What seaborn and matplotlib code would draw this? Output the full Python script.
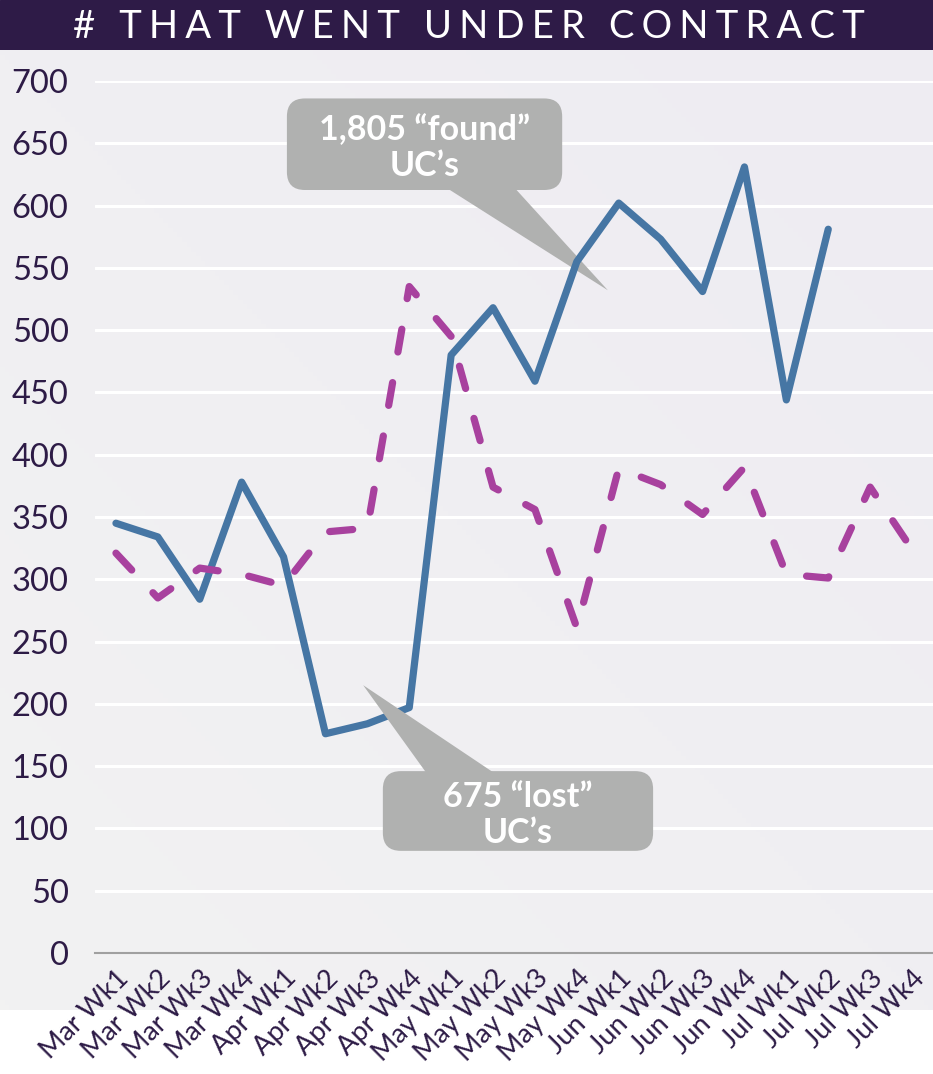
import numpy as np
import pandas as pd
import matplotlib.pyplot as plt
import seaborn as sns
from matplotlib.patches import FancyBboxPatch, Polygon, Rectangle
from matplotlib.colors import LinearSegmentedColormap
from matplotlib.transforms import ScaledTranslation

# Données
weeks = ["Mar Wk1", "Mar Wk2", "Mar Wk3", "Mar Wk4",
         "Apr Wk1", "Apr Wk2", "Apr Wk3", "Apr Wk4",
         "May Wk1", "May Wk2", "May Wk3", "May Wk4",
         "Jun Wk1", "Jun Wk2", "Jun Wk3", "Jun Wk4",
         "Jul Wk1", "Jul Wk2", "Jul Wk3", "Jul Wk4"]
found = [345, 334, 284, 378, 318, 176, 184, 197, 480, 518, 459, 555,
         602, 573, 531, 631, 444, 581, np.nan, np.nan]
lost = [321, 285, 309, 304, 295, 338, 341, 535, 495, 374, 356, 261,
        389, 376, 352, 390, 304, 301, 374, 324]

title = "# THAT WENT UNDER CONTRACT"
callout_found = "1,805 \u201cfound\u201d\nUC\u2019s"
callout_lost = "675 \u201clost\u201d\nUC\u2019s"

BLUE = "#4676a4"
MAGENTA = "#a8419e"
DARK = "#2d1b46"
GREY_BOX = "#b0b1b0"

df = pd.DataFrame({"pos": np.arange(len(weeks)), "found": found, "lost": lost})

sns.set_style("white")
plt.rcParams["font.family"] = ["Lato", "DejaVu Sans"]

W, H = 933, 1074
fig = plt.figure(figsize=(W / 100, H / 100), dpi=100)

# Bandeau du titre
fig.add_artist(Rectangle((0, 1 - 50 / H), 1, 50 / H, transform=fig.transFigure,
                         color="#2e1b47", zorder=0))
spaced = "\u2009\u200a".join(title)
fig.text(0.503, 1 - 27 / H, spaced, ha="center", va="center", color="white",
         fontsize=27.5, family=["Lato", "DejaVu Sans"])

# Fond dégradé
bg = fig.add_axes([0, 64 / H, 1, 960 / H])
grad_cmap = LinearSegmentedColormap.from_list("bg", ["#f2f2f2", "#eeecf2"])
gx, gy = np.meshgrid(np.linspace(0, 1, 200), np.linspace(0, 1, 200))
bg.imshow((gx + (1 - gy)) / 2, cmap=grad_cmap, aspect="auto", extent=(0, 1, 0, 1))
bg.axis("off")

ax = fig.add_axes([95 / W, 121 / H, 838 / W, 872 / H])
ax.patch.set_alpha(0)

sns.lineplot(data=df, x="pos", y="found", ax=ax, color=BLUE, lw=5.2,
             solid_capstyle="round", solid_joinstyle="round", zorder=3)
sns.lineplot(data=df, x="pos", y="lost", ax=ax, color=MAGENTA, lw=5.2,
             linestyle=(0, (3.2, 4.3)), dash_capstyle="round", zorder=4)

ax.set_xlim(-0.5, len(weeks) - 0.5)
ax.set_ylim(0, 700)
ax.set_yticks(np.arange(0, 701, 50))
ax.set_xlabel("")
ax.set_ylabel("")

ax.set_xticks(np.arange(-0.5, len(weeks), 1))
ax.set_xticklabels([])
ax.set_xticks(np.arange(len(weeks)), minor=True)
ax.set_xticklabels(weeks, minor=True, rotation=45, ha="right", va="top",
                   rotation_mode="anchor", fontsize=19.5, color=DARK)
shift = ScaledTranslation(4 / 100, 0, fig.dpi_scale_trans)
for lbl in ax.get_xticklabels(minor=True):
    lbl.set_transform(lbl.get_transform() + shift)
ax.tick_params(axis="x", which="major", length=8, width=1.3, color="#a0a0a0",
               direction="out")
ax.tick_params(axis="x", which="minor", length=0, pad=9)
ax.tick_params(axis="y", length=0, pad=19, labelsize=23.5, labelcolor=DARK)

for s in ["top", "right", "left"]:
    ax.spines[s].set_visible(False)
ax.spines["bottom"].set_color("#a0a0a0")
ax.spines["bottom"].set_linewidth(1.5)
ax.spines["bottom"].set_zorder(5)

ax.yaxis.grid(True, color="white", lw=2.2)
ax.set_axisbelow(True)

# Bulles d'annotation (coordonnées des données)
asp = (700 / 872) / (20 / 838)


def bulle(box, tail, text, z):
    x0, y0, x1, y1 = box
    ax.add_patch(FancyBboxPatch((x0, y0), x1 - x0, y1 - y0,
                                boxstyle="round,pad=0,rounding_size=0.43",
                                mutation_aspect=asp, fc=GREY_BOX, ec="none",
                                zorder=z, clip_on=False))
    ax.add_patch(Polygon(tail, closed=True, fc=GREY_BOX, ec="none", zorder=z,
                         clip_on=False))
    ax.text((x0 + x1) / 2, (y0 + y1) / 2 - 3, text, ha="center", va="center",
            color="white", fontsize=24.5, fontweight="bold", linespacing=1.15,
            zorder=z + 0.1)


bulle((4.08, 612.5, 10.65, 686), [(7.9, 614), (9.52, 614), (11.74, 532)],
      callout_found, 2)
bulle((6.37, 82, 12.82, 146), [(5.9, 215), (7.42, 144), (9.05, 144)],
      callout_lost, 6)

fig.savefig("out.png", dpi=100)
